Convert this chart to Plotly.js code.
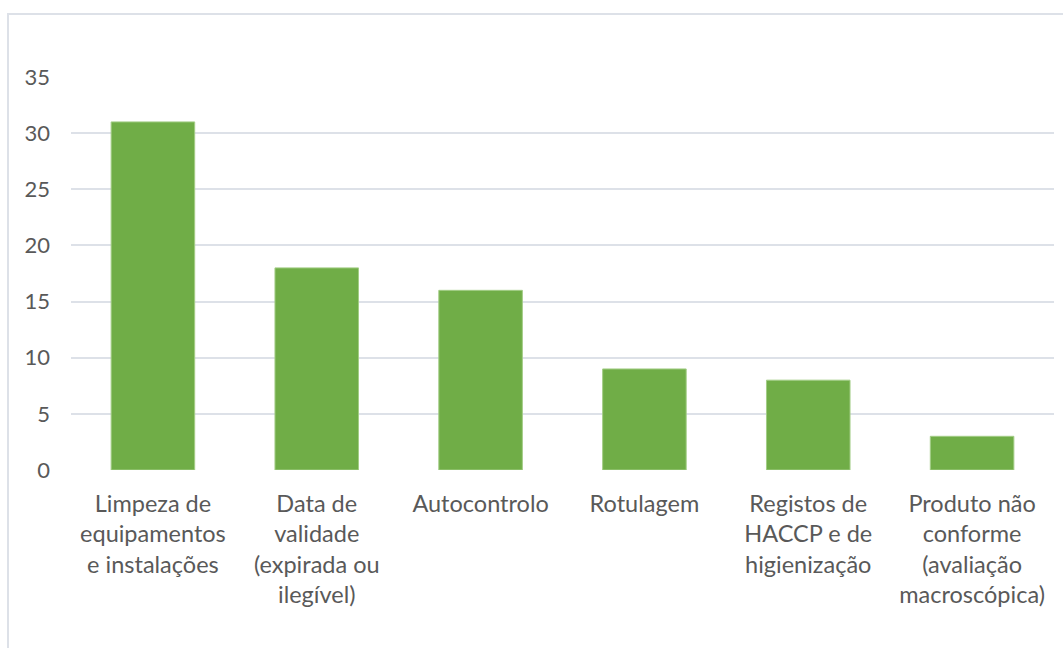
<!DOCTYPE html>
<html>
<head>
<meta charset="utf-8">
<script src="https://cdn.plot.ly/plotly-3.0.1.min.js"></script>
<style>
  html, body { margin: 0; padding: 0; background: #ffffff; }
  #wrap { position: relative; width: 1063px; height: 648px; overflow: hidden; }
  #chart { position: absolute; left: 0; top: 0; width: 1063px; height: 648px; }
  #frame { position: absolute; left: 7px; top: 13px; width: 1100px; height: 700px;
           border-left: 2px solid #dde1e8; border-top: 2px solid #dde1e8; pointer-events: none; }
</style>
</head>
<body>
<div id="wrap">
  <div id="chart"></div>
  <div id="frame"></div>
</div>
<script>
const categories = [
  "Limpeza de<br>equipamentos<br>e instalações",
  "Data de<br>validade<br>(expirada ou<br>ilegível)",
  "Autocontrolo",
  "Rotulagem",
  "Registos de<br>HACCP e de<br>higienização",
  "Produto não<br>conforme<br>(avaliação<br>macroscópica)"
];
const values = [31, 18, 16, 9, 8, 3];
const yTicks = [0, 5, 10, 15, 20, 25, 30, 35];

const trace = {
  type: "bar",
  x: categories,
  y: values,
  marker: { color: "#70ad47", line: { color: "#a3cd86", width: 1 } },
  hoverinfo: "x+y"
};

const fontFamily = "Lato, 'Noto Sans', sans-serif";
const layout = {
  width: 1063,
  height: 648,
  margin: { l: 71, r: 9, t: 77, b: 178 },
  paper_bgcolor: "rgba(0,0,0,0)",
  plot_bgcolor: "rgba(0,0,0,0)",
  showlegend: false,
  bargap: 0.49,
  font: { family: fontFamily, size: 23, color: "#595959" },
  xaxis: {
    type: "category",
    showgrid: false,
    showline: false,
    zeroline: false,
    ticks: "",
    tickangle: 0,
    ticklabelstandoff: 17,
    tickfont: { family: fontFamily, size: 23.5, color: "#595959" }
  },
  yaxis: {
    range: [0, 35],
    tickvals: yTicks,
    showgrid: true,
    gridcolor: "#dde1e8",
    gridwidth: 2,
    zeroline: false,
    showline: false,
    ticks: "",
    ticklabelstandoff: 20,
    tickfont: { family: fontFamily, size: 22, color: "#595959" }
  }
};

Plotly.newPlot("chart", [trace], layout, { displayModeBar: false, staticPlot: true });
</script>
</body>
</html>
